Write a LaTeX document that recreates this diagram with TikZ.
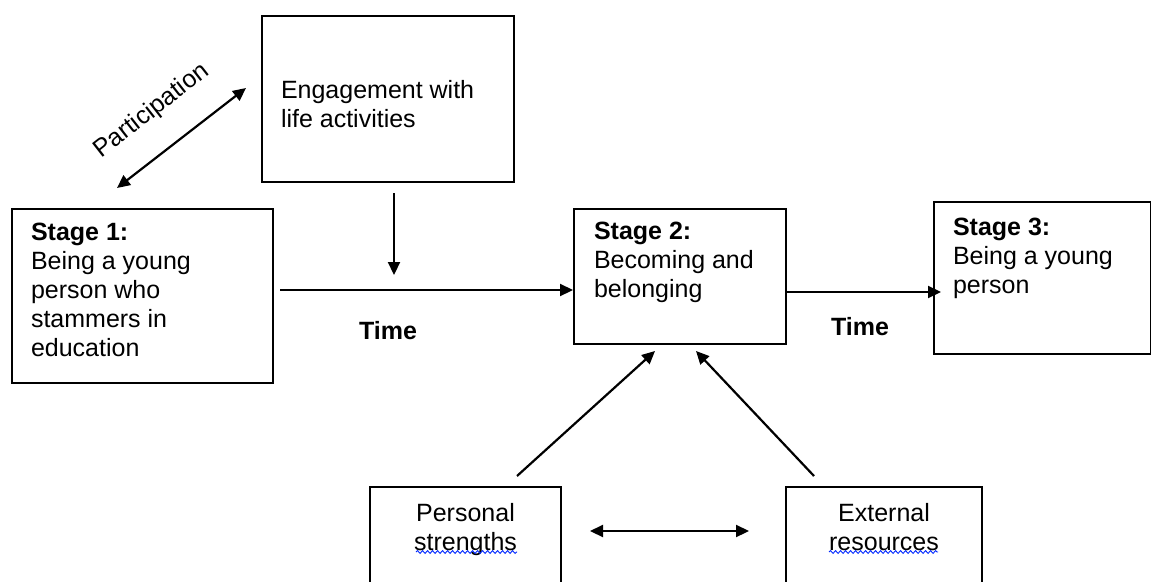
\documentclass[tikz,border=0pt]{standalone}
\usepackage{fontspec}
\setmainfont{Liberation Sans}
\usepackage{tikz}
\usetikzlibrary{arrows.meta,decorations.pathmorphing}

\tikzset{
    box/.style={draw, line width=2pt, anchor=north west, font=\fontsize{25}{29}\selectfont},
    arr/.style={line width=2.2pt, -{Triangle[length=13pt,width=12pt]}},
    dblarr/.style={line width=2.2pt, {Triangle[length=13pt,width=12pt]}-{Triangle[length=13pt,width=12pt]}},
    lbl/.style={inner sep=0pt, font=\fontsize{25}{29}\selectfont},
    squiggle/.style={draw=blue!85!cyan, line width=0.9pt, decorate,
        decoration={snake, amplitude=1.4pt, segment length=5pt}}
}

\begin{document}
\begin{tikzpicture}[x=1pt,y=-1pt]
    \useasboundingbox (0,0) rectangle (1151,581);
    \node[box, inner xsep=19pt, inner ysep=55pt] (eng) at (261,15)
        {\parbox[c][56pt][b]{214pt}{Engagement with\\life activities}};
    \node[box, inner xsep=19pt, inner ysep=14pt] (s1) at (11,208)
        {\parbox[c][146pt][t]{223pt}{\textbf{Stage 1:}\\Being a young\\person who\\stammers in\\education}};
    \node[box, inner xsep=20pt, inner ysep=13pt] (s2) at (573,208)
        {\parbox[c][109pt][t]{172pt}{\textbf{Stage 2:}\\Becoming and\\belonging}};
    \node[box, inner xsep=19pt, inner ysep=16pt] (s3) at (933,201)
        {\parbox[c][120pt][t]{179pt}{\textbf{Stage 3:}\\Being a young\\person}};
    \node[box, inner xsep=0pt, inner ysep=16pt] (ps) at (369,486)
        {\parbox[c][90pt][t]{191pt}{\centering Personal\\strengths}};
    \node[box, inner xsep=0pt, inner ysep=16pt] (er) at (785,486)
        {\parbox[c][90pt][t]{196pt}{\centering External\\resources}};

    \node[lbl, rotate=38] (part) at (152,111) {Participation};
    \node[lbl, font=\bfseries\fontsize{25}{29}\selectfont] (time1) at (388,331) {Time};
    \node[lbl, font=\bfseries\fontsize{25}{29}\selectfont] (time2) at (860,327) {Time};

    \coordinate (pa) at (117,188);
    \coordinate (pb) at (246,88);
    \draw[dblarr] (pa) -- (pb);
    \coordinate (ea) at (394,193);
    \coordinate (eb) at (394,275);
    \draw[arr] (ea) -- (eb);
    \coordinate (ta) at (280,290);
    \draw[arr] (ta) -- (ta -| s2.west);
    \coordinate (tb) at (941,292);
    \draw[arr] (tb -| s2.east) -- (tb);
    \coordinate (psa) at (517,476);
    \coordinate (psb) at (655,351);
    \draw[arr] (psa) -- (psb);
    \coordinate (era) at (814,476);
    \coordinate (erb) at (696,351);
    \draw[arr] (era) -- (erb);
    \coordinate (ma) at (590,531);
    \coordinate (mb) at (749,531);
    \draw[dblarr] (ma) -- (mb);

    \draw[squiggle] (416,552) -- (517,552);
    \draw[squiggle] (829,552) -- (938,552);
\end{tikzpicture}
\end{document}
